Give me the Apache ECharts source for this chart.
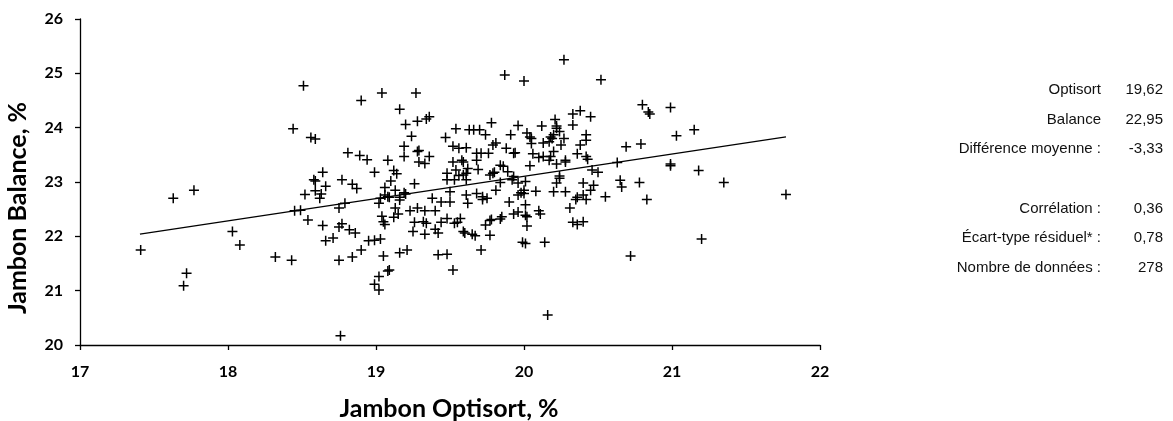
<!DOCTYPE html>
<html>
<head>
<meta charset="utf-8">
<script src="https://cdn.jsdelivr.net/npm/echarts@6/dist/echarts.min.js"></script>
<style>html,body{margin:0;padding:0;background:#fff}#c{width:1173px;height:421px}</style>
</head>
<body>
<div id="c"></div>
<script>
// Optisort (x) and Balance (y) values
const optisort = [
17.77,17.63,17.41,18.03,18.08,17.72,17.70,
18.51,18.90,19.04,19.27,19.16,18.44,18.56,18.59,19.20,19.28,19.34,19.36,19.24,19.47,19.52,19.19,19.29,19.28,19.19,19.36,19.29,19.33,19.52,18.81,18.89,18.94,19.08,18.64,18.99,19.12,19.14,18.58,18.59,18.77,18.84,18.87,18.66,18.59,18.52,18.63,18.62,19.10,19.26,19.06,19.13,19.06,19.08,19.19,19.48,19.48,19.50,19.38,19.16,
18.45,18.49,18.54,18.64,18.75,18.79,18.75,18.77,18.82,18.86,18.66,18.71,18.32,18.43,18.75,18.84,18.90,18.95,18.99,19.03,19.02,19.03,19.09,19.04,19.05,19.06,19.13,19.15,19.12,19.16,19.20,19.05,19.16,19.21,19.09,19.08,19.02,18.99,19.02,18.76,19.23,19.28,19.33,19.40,19.44,19.50,19.26,19.32,19.34,19.25,19.33,19.40,19.42,19.44,19.48,19.42,19.48,19.53,19.52,
19.87,20.00,20.27,20.52,20.33,20.38,20.45,20.21,20.22,20.22,20.33,20.12,19.96,19.78,19.54,19.63,19.66,19.70,19.74,19.91,20.02,20.04,20.05,20.18,20.19,20.20,20.24,20.27,20.13,20.17,20.05,20.25,20.42,20.42,20.38,20.69,19.79,19.81,19.56,19.61,19.88,19.93,19.94,20.06,20.13,20.18,20.20,20.36,20.42,20.43,19.68,19.71,19.76,19.68,19.58,19.59,20.10,20.17,20.22,20.28,20.28,20.04,19.84,19.86,19.79,19.80,19.89,19.93,19.62,19.61,19.69,19.54,19.56,19.59,19.53,19.61,19.77,19.92,19.96,20.01,19.84,20.24,20.24,20.22,20.46,20.50,20.63,20.65,20.66,20.78,20.40,20.47,20.45,20.00,20.00,20.08,20.20,20.28,19.81,19.72,19.61,19.68,19.96,19.98,20.40,20.36,20.55,
19.62,19.72,19.75,19.90,20.01,19.93,19.96,20.01,20.02,20.10,20.11,19.85,19.84,19.77,19.78,19.74,19.57,19.55,19.59,19.60,19.65,19.67,19.77,20.02,19.71,19.99,20.01,20.14,20.31,20.35,20.42,20.33,20.36,20.40,20.72,20.16,
20.80,20.84,20.85,20.99,20.79,21.03,21.15,20.99,20.99,21.18,21.35,21.77,20.83,21.20
];
const balance = [
22.85,22.70,21.75,22.09,21.84,21.32,21.09,
24.77,24.50,24.64,24.64,24.34,23.98,23.82,23.79,24.06,24.12,24.16,24.20,23.84,23.82,23.66,23.66,23.58,23.56,23.47,23.47,23.37,23.34,23.37,23.54,23.49,23.41,23.40,23.18,23.18,23.21,23.15,23.04,23.02,23.04,22.96,22.88,22.92,22.84,22.77,22.78,22.70,23.02,22.97,22.90,22.85,22.76,22.73,22.80,23.16,23.04,22.82,22.70,22.72,
22.47,22.48,22.30,22.20,22.52,22.61,22.17,22.23,22.12,22.06,21.92,21.97,21.62,21.56,21.56,21.62,21.75,21.92,21.93,21.95,22.61,22.70,22.72,22.37,22.27,22.22,22.52,22.41,22.35,22.67,22.78,21.64,21.70,21.75,21.38,21.36,21.26,21.12,21.01,20.17,22.47,22.52,22.47,22.47,22.63,22.63,22.26,22.27,22.24,22.09,22.04,22.13,22.06,22.26,22.33,21.66,21.67,22.24,21.38,
24.97,24.86,25.25,24.88,24.25,24.31,24.20,24.15,24.03,23.99,24.05,24.03,24.04,24.09,23.98,23.96,23.96,23.96,23.87,23.87,23.90,23.83,23.80,23.83,23.80,23.87,23.93,23.80,23.72,23.74,23.71,23.68,23.87,23.77,23.68,23.65,23.68,23.72,23.62,23.63,23.62,23.53,23.54,23.52,23.47,23.47,23.56,23.52,23.47,23.42,23.53,23.53,23.53,23.40,23.40,23.37,23.45,23.40,23.33,23.37,23.40,23.30,23.31,23.29,23.16,23.18,23.19,23.10,23.25,23.16,23.23,23.22,23.12,23.13,23.04,23.04,23.13,23.04,22.98,23.01,22.99,23.11,23.07,22.98,23.22,23.18,23.36,23.03,22.91,22.99,22.98,22.94,22.85,22.85,22.79,22.83,22.82,22.82,22.85,22.73,22.76,22.79,22.76,22.80,22.76,22.72,22.73,
22.61,22.68,22.70,22.63,22.58,22.41,22.45,22.39,22.36,22.47,22.41,22.36,22.32,22.29,22.31,22.21,22.33,22.26,22.09,22.06,22.04,22.01,22.02,22.19,21.75,21.89,21.87,21.89,22.52,22.68,22.68,22.26,22.22,22.27,21.64,20.55,
24.42,24.29,24.25,24.37,23.70,23.85,23.96,23.33,23.30,23.21,22.99,22.77,22.68,21.95
];
// regression line end points
const trendX = [17.405, 21.77];
const trendY = [22.04, 23.83];
// statistics panel
const statLabels = ['Optisort', 'Balance', 'Différence moyenne :', '', 'Corrélation :', 'Écart-type résiduel* :', 'Nombre de données :'];
const statValues = ['19,62', '22,95', '-3,33', '', '0,36', '0,78', '278'];
const xTitle = 'Jambon Optisort, %';
const yTitle = 'Jambon Balance, %';

const points = optisort.map((x, i) => [x, balance[i]]);
const trend = trendX.map((x, i) => [x, trendY[i]]);
const plus = 'path://M0,4.25H4.25V0H5.75V4.25H10V5.75H5.75V10H4.25V5.75H0Z';

const statTop = 90, statStep = 29.6;
const graphics = [
  {type:'text', x:18, y:208, rotation:Math.PI/2, style:{text:yTitle, font:'bold 25px Lato', fill:'#000', textAlign:'center', textVerticalAlign:'middle'}},
  {type:'text', x:449, y:409, style:{text:xTitle, font:'bold 25px Lato', fill:'#000', textAlign:'center', textVerticalAlign:'middle'}}
];
statLabels.forEach((t, i) => {
  if (!t) return;
  graphics.push({type:'text', x:1101, y:statTop + i*statStep, style:{text:t, font:'15px "Liberation Sans"', fill:'#111', textAlign:'right', textVerticalAlign:'middle'}});
  graphics.push({type:'text', x:1163, y:statTop + i*statStep, style:{text:statValues[i], font:'15px "Liberation Sans"', fill:'#111', textAlign:'right', textVerticalAlign:'middle'}});
});

const chart = echarts.init(document.getElementById('c'), null, {renderer:'canvas'});
chart.setOption({
  animation:false,
  backgroundColor:'#fff',
  grid:{left:80, right:353, top:19, bottom:76, containLabel:false},
  xAxis:{type:'value', min:17, max:22, interval:1,
    axisLine:{show:true, onZero:false, lineStyle:{color:'#000', width:1.3}},
    axisTick:{show:true, length:5, lineStyle:{color:'#000', width:1.3}},
    splitLine:{show:false},
    axisLabel:{margin:19, color:'#000', fontFamily:'Lato', fontWeight:'bold', fontSize:16}},
  yAxis:{type:'value', min:20, max:26, interval:1,
    axisLine:{show:true, onZero:false, lineStyle:{color:'#000', width:1.3}},
    axisTick:{show:true, length:5, lineStyle:{color:'#000', width:1.3}},
    splitLine:{show:false},
    axisLabel:{margin:17, color:'#000', fontFamily:'Lato', fontWeight:'bold', fontSize:16}},
  graphic:graphics,
  series:[
    {type:'scatter', data:points, symbol:plus, symbolSize:10, itemStyle:{color:'#000', opacity:1}, silent:true, z:3},
    {type:'line', data:trend, symbol:'none', lineStyle:{color:'#000', width:1.3}, silent:true, z:2}
  ]
});
</script>
</body>
</html>
